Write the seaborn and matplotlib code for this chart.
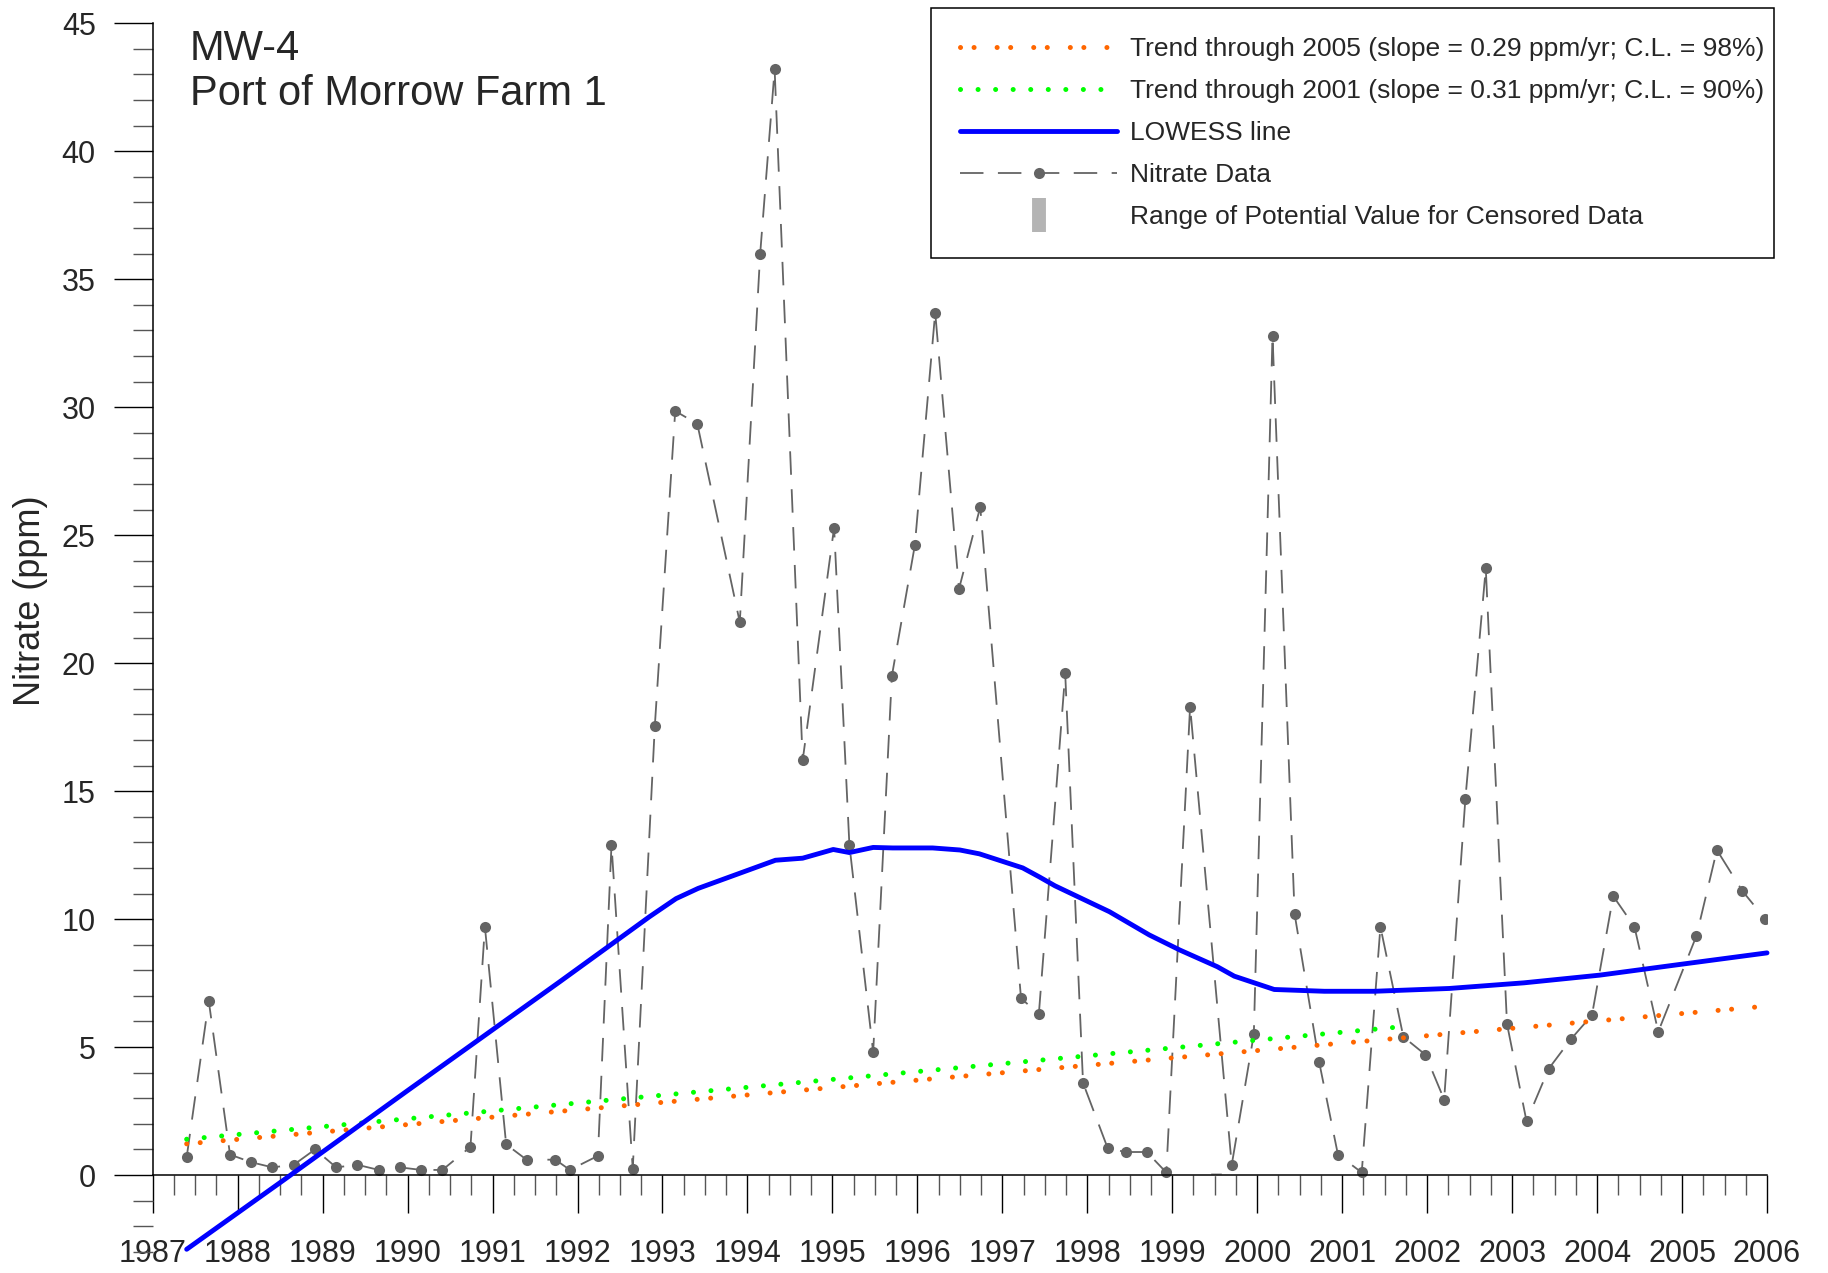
import matplotlib
matplotlib.use("Agg")
import matplotlib.pyplot as plt
from matplotlib.lines import Line2D
from matplotlib.ticker import MultipleLocator
import seaborn as sns
import pandas as pd

# nitrate samples (decimal year, ppm)
sample_year = [1987.40, 1987.66, 1987.91, 1988.16, 1988.41, 1988.66, 1988.91, 1989.16,
               1989.41, 1989.66, 1989.91, 1990.16, 1990.41, 1990.74, 1990.91, 1991.16,
               1991.40, 1991.74, 1991.91, 1992.24, 1992.40, 1992.65, 1992.91, 1993.15,
               1993.41, 1993.91, 1994.15, 1994.32, 1994.65, 1995.02, 1995.20, 1995.48,
               1995.70, 1995.97, 1996.21, 1996.49, 1996.74, 1997.22, 1997.43, 1997.74,
               1997.95, 1998.24, 1998.45, 1998.70, 1998.93, 1999.21, 1999.70, 1999.96,
               2000.18, 2000.44, 2000.73, 2000.95, 2001.23, 2001.45, 2001.72, 2001.98,
               2002.20, 2002.45, 2002.69, 2002.94, 2003.17, 2003.43, 2003.69, 2003.94,
               2004.19, 2004.44, 2004.72, 2005.17, 2005.41, 2005.71, 2005.98]
nitrate = [0.7, 6.8, 0.8, 0.5, 0.3, 0.4, 1.0, 0.3,
           0.4, 0.2, 0.3, 0.2, 0.2, 1.1, 9.7, 1.2,
           0.6, 0.6, 0.2, 0.75, 12.9, 0.25, 17.55, 29.85,
           29.35, 21.6, 36.0, 43.2, 16.2, 25.3, 12.9, 4.8,
           19.5, 24.6, 33.7, 22.9, 26.1, 6.9, 6.3, 19.6,
           3.6, 1.05, 0.9, 0.9, 0.1, 18.3, 0.4, 5.5,
           32.8, 10.2, 4.4, 0.8, 0.1, 9.7, 5.4, 4.7,
           2.95, 14.7, 23.7, 5.9, 2.1, 4.15, 5.3, 6.25,
           10.9, 9.7, 5.6, 9.35, 12.7, 11.1, 10.0]

# LOWESS smooth
lowess_year = [1987.40, 1988.54, 1990.00, 1991.79, 1992.85, 1993.16, 1993.42, 1994.14,
               1994.33, 1994.65, 1995.01, 1995.20, 1995.48, 1995.71, 1996.18, 1996.50,
               1996.73, 1997.24, 1997.44, 1997.62, 1998.26, 1998.73, 1999.09, 1999.53,
               1999.73, 2000.20, 2000.79, 2001.38, 2002.26, 2003.14, 2004.03, 2004.91,
               2006.00]
lowess_val = [-2.9, -0.2, 3.3, 7.55, 10.1, 10.8, 11.2, 12.07,
              12.3, 12.38, 12.72, 12.6, 12.8, 12.78, 12.78, 12.7,
              12.55, 12.0, 11.64, 11.3, 10.29, 9.38, 8.79, 8.14,
              7.77, 7.25, 7.18, 7.18, 7.29, 7.51, 7.81, 8.2,
              8.68]

# Mann-Kendall trend lines (end points)
trend05_year = [1987.40, 2006.00]
trend05_val = [1.22, 6.60]
trend01_year = [1987.40, 2001.65]
trend01_val = [1.40, 5.78]

# censored sample (range of potential value)
censored_year = [1999.52]
censored_max = [0.12]

year_ticks = list(range(1987, 2007))

legend_labels = ["Trend through 2005 (slope = 0.29 ppm/yr; C.L. = 98%)",
                 "Trend through 2001 (slope = 0.31 ppm/yr; C.L. = 90%)",
                 "LOWESS line",
                 "Nitrate Data",
                 "Range of Potential Value for Censored Data"]

sns.set_style("white")
plt.rcParams["font.family"] = ["Liberation Sans", "DejaVu Sans"]

ORANGE = "#ff6600"
GREEN = "#00ff00"
BLUE = "#0000ff"
GRAY = "#646464"
LIGHT = "#b4b4b4"
orange_ls = (0, (0.01, 2.7, 0.01, 4.6))
green_ls = (0, (0.01, 3.5))
data_ls = (0, (13, 8))

fig = plt.figure(figsize=(18.28, 12.73), dpi=100)
ax = fig.add_axes([0.08353, 0.0106, 0.88310, 0.9711])

df = pd.DataFrame({"year": sample_year, "nitrate": nitrate})
sns.lineplot(data=df, x="year", y="nitrate", ax=ax, sort=False, errorbar=None,
             color=GRAY, lw=1.3, linestyle=data_ls, marker="o", markersize=8,
             markeredgewidth=0, zorder=2)

ax.bar(censored_year, censored_max, width=0.14, color=LIGHT, zorder=2)

sns.lineplot(x=trend05_year, y=trend05_val, ax=ax, color=ORANGE, lw=3.6,
             linestyle=orange_ls, dash_capstyle="round", zorder=3)
sns.lineplot(x=trend01_year, y=trend01_val, ax=ax, color=GREEN, lw=3.6,
             linestyle=green_ls, dash_capstyle="round", zorder=3)
sns.lineplot(x=lowess_year, y=lowess_val, ax=ax, sort=False, color=BLUE, lw=3.5,
             zorder=4, clip_on=False)

ax.set_xlim(1987, 2006)
ax.set_ylim(-3.3, 45)

for s in ["top", "right"]:
    ax.spines[s].set_visible(False)
ax.spines["bottom"].set_position(("data", 0))
ax.spines["bottom"].set_bounds(1987, 2006)
ax.spines["left"].set_bounds(0, 45)
for s in ["bottom", "left"]:
    ax.spines[s].set_linewidth(1.1)
    ax.spines[s].set_color("black")

ax.set_xticks(year_ticks)
ax.set_xticklabels([str(y) for y in year_ticks])
ax.xaxis.set_minor_locator(MultipleLocator(0.25))
ax.set_yticks(range(0, 46, 5))
ax.yaxis.set_minor_locator(MultipleLocator(1))

ax.tick_params(axis="x", which="major", direction="out", length=27.4, width=1.0,
               color="black", pad=19, labelsize=22, bottom=True)
ax.tick_params(axis="x", which="minor", direction="out", length=14.4, width=1.0,
               color="#555555", bottom=True)
ax.tick_params(axis="y", which="major", direction="out", length=28, width=1.0,
               color="black", pad=13, labelsize=22, left=True)
ax.tick_params(axis="y", which="minor", direction="out", length=14.4, width=1.0,
               color="#555555", left=True)

ax.set_xlabel("")
ax.set_ylabel("Nitrate (ppm)", fontsize=26)
ax.yaxis.set_label_coords(-0.0754, 0.5333)
ax.yaxis.label.set_va("center")

fig.text(190 / 1828, 1 - 60 / 1273, "MW-4", fontsize=30, ha="left", va="baseline")
fig.text(190 / 1828, 1 - 105 / 1273, "Port of Morrow Farm 1", fontsize=30,
         ha="left", va="baseline")

handles = [
    Line2D([], [], color=ORANGE, lw=3.6, linestyle=orange_ls, dash_capstyle="round"),
    Line2D([], [], color=GREEN, lw=3.6, linestyle=green_ls, dash_capstyle="round"),
    Line2D([], [], color=BLUE, lw=3.5),
    Line2D([], [], color=GRAY, lw=1.3, linestyle=data_ls, marker="o",
           markersize=8, markeredgewidth=0),
    Line2D([], [], color=LIGHT, linestyle="None", marker="|", markersize=24,
           markeredgewidth=10),
]
leg = fig.legend(handles, legend_labels, loc="upper left",
                 bbox_to_anchor=(931 / 1828, 1 - 8 / 1273, 843 / 1828, 0),
                 mode="expand", borderaxespad=0, frameon=True, fancybox=False,
                 edgecolor="black", framealpha=1, fontsize=19, handlelength=5.95,
                 handletextpad=0.5, labelspacing=0.68, borderpad=1.1, numpoints=1)
leg.get_frame().set_linewidth(1.1)

fig.savefig("out.png", dpi=100)
